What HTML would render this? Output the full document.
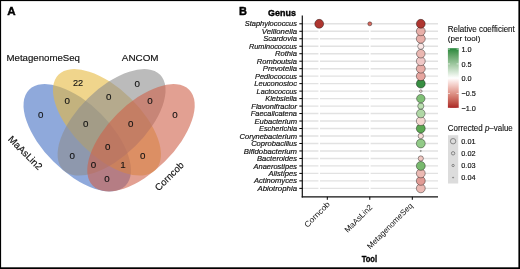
<!DOCTYPE html><html><head><meta charset="utf-8"><style>html,body{margin:0;padding:0;background:#fff;}svg{display:block;will-change:transform;}text{font-family:"Liberation Sans", sans-serif;}</style></head><body>
<svg width="520" height="269" viewBox="0 0 520 269">
<rect x="0" y="0" width="520" height="269" fill="#fff"/>
<ellipse cx="77.25" cy="137.76" rx="68.07" ry="33.69" transform="rotate(44.96 77.25 137.76)" fill="#4470c3" fill-opacity="0.6"/>
<ellipse cx="106.96" cy="122.27" rx="67.95" ry="33.68" transform="rotate(44.36 106.96 122.27)" fill="#e6b93f" fill-opacity="0.6"/>
<ellipse cx="111.58" cy="122.27" rx="67.95" ry="33.68" transform="rotate(-44.36 111.58 122.27)" fill="#8e8e8e" fill-opacity="0.6"/>
<ellipse cx="140.99" cy="137.76" rx="68.07" ry="33.69" transform="rotate(-44.96 140.99 137.76)" fill="#cf6149" fill-opacity="0.6"/>
<text x="7.2" y="15.3" font-size="11.6" font-weight="bold" stroke="#000" stroke-width="0.4">A</text>
<text x="239.0" y="15.2" font-size="11" font-weight="bold" stroke="#000" stroke-width="0.4">B</text>
<text x="6.5" y="60.9" font-size="9.6" fill="#111" stroke="#111" stroke-width="0.15" textLength="73.5" lengthAdjust="spacingAndGlyphs">MetagenomeSeq</text>
<text x="121.8" y="60.7" font-size="9.6" fill="#111" stroke="#111" stroke-width="0.15" textLength="36.8" lengthAdjust="spacingAndGlyphs">ANCOM</text>
<text x="0" y="0" font-size="9.8" text-anchor="middle" fill="#111" stroke="#111" stroke-width="0.15" transform="translate(22.9,155.2) rotate(45)">MaAsLin2</text>
<text x="0" y="0" font-size="9.6" text-anchor="middle" fill="#111" stroke="#111" stroke-width="0.15" transform="translate(171.6,178.6) rotate(-45)">Corncob</text>
<text x="78.0" y="85.8" font-size="9.8" text-anchor="middle" fill="#111" stroke="#111" stroke-width="0.12" textLength="10.2" lengthAdjust="spacingAndGlyphs">22</text>
<text x="108.8" y="100.4" font-size="9.8" text-anchor="middle" fill="#111" stroke="#111" stroke-width="0.12">0</text>
<text x="137.3" y="86.6" font-size="9.8" text-anchor="middle" fill="#111" stroke="#111" stroke-width="0.12">0</text>
<text x="67.3" y="104.3" font-size="9.8" text-anchor="middle" fill="#111" stroke="#111" stroke-width="0.12">0</text>
<text x="40.8" y="117.7" font-size="9.8" text-anchor="middle" fill="#111" stroke="#111" stroke-width="0.12">0</text>
<text x="150" y="104.3" font-size="9.8" text-anchor="middle" fill="#111" stroke="#111" stroke-width="0.12">0</text>
<text x="175" y="117.7" font-size="9.8" text-anchor="middle" fill="#111" stroke="#111" stroke-width="0.12">0</text>
<text x="85.8" y="127.0" font-size="9.8" text-anchor="middle" fill="#111" stroke="#111" stroke-width="0.12">0</text>
<text x="130.8" y="127.0" font-size="9.8" text-anchor="middle" fill="#111" stroke="#111" stroke-width="0.12">0</text>
<text x="107.7" y="150.0" font-size="9.8" text-anchor="middle" fill="#111" stroke="#111" stroke-width="0.12">0</text>
<text x="72.3" y="159.3" font-size="9.8" text-anchor="middle" fill="#111" stroke="#111" stroke-width="0.12">0</text>
<text x="142.7" y="159.3" font-size="9.8" text-anchor="middle" fill="#111" stroke="#111" stroke-width="0.12">0</text>
<text x="93.5" y="168.1" font-size="9.8" text-anchor="middle" fill="#111" stroke="#111" stroke-width="0.12">0</text>
<text x="123.1" y="168.1" font-size="9.8" text-anchor="middle" fill="#111" stroke="#111" stroke-width="0.12">1</text>
<text x="106.9" y="181.6" font-size="9.8" text-anchor="middle" fill="#111" stroke="#111" stroke-width="0.12">0</text>
<text x="268.1" y="16.0" font-size="9.6" font-weight="bold" stroke="#000" stroke-width="0.4" textLength="27.8" lengthAdjust="spacingAndGlyphs">Genus</text>
<line x1="302.3" y1="23.80" x2="438.0" y2="23.80" stroke="#e2e2e2" stroke-width="1.4"/>
<line x1="302.3" y1="31.28" x2="438.0" y2="31.28" stroke="#e2e2e2" stroke-width="1.4"/>
<line x1="302.3" y1="38.76" x2="438.0" y2="38.76" stroke="#e2e2e2" stroke-width="1.4"/>
<line x1="302.3" y1="46.24" x2="438.0" y2="46.24" stroke="#e2e2e2" stroke-width="1.4"/>
<line x1="302.3" y1="53.72" x2="438.0" y2="53.72" stroke="#e2e2e2" stroke-width="1.4"/>
<line x1="302.3" y1="61.20" x2="438.0" y2="61.20" stroke="#e2e2e2" stroke-width="1.4"/>
<line x1="302.3" y1="68.68" x2="438.0" y2="68.68" stroke="#e2e2e2" stroke-width="1.4"/>
<line x1="302.3" y1="76.16" x2="438.0" y2="76.16" stroke="#e2e2e2" stroke-width="1.4"/>
<line x1="302.3" y1="83.64" x2="438.0" y2="83.64" stroke="#e2e2e2" stroke-width="1.4"/>
<line x1="302.3" y1="91.12" x2="438.0" y2="91.12" stroke="#e2e2e2" stroke-width="1.4"/>
<line x1="302.3" y1="98.60" x2="438.0" y2="98.60" stroke="#e2e2e2" stroke-width="1.4"/>
<line x1="302.3" y1="106.08" x2="438.0" y2="106.08" stroke="#e2e2e2" stroke-width="1.4"/>
<line x1="302.3" y1="113.56" x2="438.0" y2="113.56" stroke="#e2e2e2" stroke-width="1.4"/>
<line x1="302.3" y1="121.04" x2="438.0" y2="121.04" stroke="#e2e2e2" stroke-width="1.4"/>
<line x1="302.3" y1="128.52" x2="438.0" y2="128.52" stroke="#e2e2e2" stroke-width="1.4"/>
<line x1="302.3" y1="136.00" x2="438.0" y2="136.00" stroke="#e2e2e2" stroke-width="1.4"/>
<line x1="302.3" y1="143.48" x2="438.0" y2="143.48" stroke="#e2e2e2" stroke-width="1.4"/>
<line x1="302.3" y1="150.96" x2="438.0" y2="150.96" stroke="#e2e2e2" stroke-width="1.4"/>
<line x1="302.3" y1="158.44" x2="438.0" y2="158.44" stroke="#e2e2e2" stroke-width="1.4"/>
<line x1="302.3" y1="165.92" x2="438.0" y2="165.92" stroke="#e2e2e2" stroke-width="1.4"/>
<line x1="302.3" y1="173.40" x2="438.0" y2="173.40" stroke="#e2e2e2" stroke-width="1.4"/>
<line x1="302.3" y1="180.88" x2="438.0" y2="180.88" stroke="#e2e2e2" stroke-width="1.4"/>
<line x1="302.3" y1="188.36" x2="438.0" y2="188.36" stroke="#e2e2e2" stroke-width="1.4"/>
<line x1="319.2" y1="15.4" x2="319.2" y2="196.8" stroke="#fff" stroke-width="1.6"/>
<line x1="369.8" y1="15.4" x2="369.8" y2="196.8" stroke="#fff" stroke-width="1.6"/>
<line x1="420.8" y1="15.4" x2="420.8" y2="196.8" stroke="#fff" stroke-width="1.6"/>
<line x1="302.3" y1="15.4" x2="302.3" y2="197.4" stroke="#111" stroke-width="1.2"/>
<line x1="301.7" y1="196.8" x2="438.0" y2="196.8" stroke="#111" stroke-width="1.2"/>
<line x1="299.3" y1="23.80" x2="302.3" y2="23.80" stroke="#000" stroke-width="1"/>
<text x="297.0" y="26.40" font-size="7.6" font-style="italic" text-anchor="end" fill="#111" stroke="#111" stroke-width="0.18" textLength="52.31" lengthAdjust="spacingAndGlyphs">Staphylococcus</text>
<line x1="299.3" y1="31.28" x2="302.3" y2="31.28" stroke="#000" stroke-width="1"/>
<text x="297.0" y="33.88" font-size="7.6" font-style="italic" text-anchor="end" fill="#111" stroke="#111" stroke-width="0.18" textLength="35.12" lengthAdjust="spacingAndGlyphs">Veillonella</text>
<line x1="299.3" y1="38.76" x2="302.3" y2="38.76" stroke="#000" stroke-width="1"/>
<text x="297.0" y="41.36" font-size="7.6" font-style="italic" text-anchor="end" fill="#111" stroke="#111" stroke-width="0.18" textLength="33.80" lengthAdjust="spacingAndGlyphs">Scardovia</text>
<line x1="299.3" y1="46.24" x2="302.3" y2="46.24" stroke="#000" stroke-width="1"/>
<text x="297.0" y="48.84" font-size="7.6" font-style="italic" text-anchor="end" fill="#111" stroke="#111" stroke-width="0.18" textLength="48.01" lengthAdjust="spacingAndGlyphs">Ruminococcus</text>
<line x1="299.3" y1="53.72" x2="302.3" y2="53.72" stroke="#000" stroke-width="1"/>
<text x="297.0" y="56.32" font-size="7.6" font-style="italic" text-anchor="end" fill="#111" stroke="#111" stroke-width="0.18" textLength="21.97" lengthAdjust="spacingAndGlyphs">Rothia</text>
<line x1="299.3" y1="61.20" x2="302.3" y2="61.20" stroke="#000" stroke-width="1"/>
<text x="297.0" y="63.80" font-size="7.6" font-style="italic" text-anchor="end" fill="#111" stroke="#111" stroke-width="0.18" textLength="40.18" lengthAdjust="spacingAndGlyphs">Romboutsia</text>
<line x1="299.3" y1="68.68" x2="302.3" y2="68.68" stroke="#000" stroke-width="1"/>
<text x="297.0" y="71.28" font-size="7.6" font-style="italic" text-anchor="end" fill="#111" stroke="#111" stroke-width="0.18" textLength="34.19" lengthAdjust="spacingAndGlyphs">Prevotella</text>
<line x1="299.3" y1="76.16" x2="302.3" y2="76.16" stroke="#000" stroke-width="1"/>
<text x="297.0" y="78.76" font-size="7.6" font-style="italic" text-anchor="end" fill="#111" stroke="#111" stroke-width="0.18" textLength="41.99" lengthAdjust="spacingAndGlyphs">Pediococcus</text>
<line x1="299.3" y1="83.64" x2="302.3" y2="83.64" stroke="#000" stroke-width="1"/>
<text x="297.0" y="86.24" font-size="7.6" font-style="italic" text-anchor="end" fill="#111" stroke="#111" stroke-width="0.18" textLength="42.74" lengthAdjust="spacingAndGlyphs">Leuconostoc</text>
<line x1="299.3" y1="91.12" x2="302.3" y2="91.12" stroke="#000" stroke-width="1"/>
<text x="297.0" y="93.72" font-size="7.6" font-style="italic" text-anchor="end" fill="#111" stroke="#111" stroke-width="0.18" textLength="40.40" lengthAdjust="spacingAndGlyphs">Lactococcus</text>
<line x1="299.3" y1="98.60" x2="302.3" y2="98.60" stroke="#000" stroke-width="1"/>
<text x="297.0" y="101.20" font-size="7.6" font-style="italic" text-anchor="end" fill="#111" stroke="#111" stroke-width="0.18" textLength="31.78" lengthAdjust="spacingAndGlyphs">Klebsiella</text>
<line x1="299.3" y1="106.08" x2="302.3" y2="106.08" stroke="#000" stroke-width="1"/>
<text x="297.0" y="108.68" font-size="7.6" font-style="italic" text-anchor="end" fill="#111" stroke="#111" stroke-width="0.18" textLength="45.67" lengthAdjust="spacingAndGlyphs">Flavonifractor</text>
<line x1="299.3" y1="113.56" x2="302.3" y2="113.56" stroke="#000" stroke-width="1"/>
<text x="297.0" y="116.16" font-size="7.6" font-style="italic" text-anchor="end" fill="#111" stroke="#111" stroke-width="0.18" textLength="46.21" lengthAdjust="spacingAndGlyphs">Faecalicatena</text>
<line x1="299.3" y1="121.04" x2="302.3" y2="121.04" stroke="#000" stroke-width="1"/>
<text x="297.0" y="123.64" font-size="7.6" font-style="italic" text-anchor="end" fill="#111" stroke="#111" stroke-width="0.18" textLength="42.49" lengthAdjust="spacingAndGlyphs">Eubacterium</text>
<line x1="299.3" y1="128.52" x2="302.3" y2="128.52" stroke="#000" stroke-width="1"/>
<text x="297.0" y="131.12" font-size="7.6" font-style="italic" text-anchor="end" fill="#111" stroke="#111" stroke-width="0.18" textLength="37.99" lengthAdjust="spacingAndGlyphs">Escherichia</text>
<line x1="299.3" y1="136.00" x2="302.3" y2="136.00" stroke="#000" stroke-width="1"/>
<text x="297.0" y="138.60" font-size="7.6" font-style="italic" text-anchor="end" fill="#111" stroke="#111" stroke-width="0.18" textLength="57.51" lengthAdjust="spacingAndGlyphs">Corynebacterium</text>
<line x1="299.3" y1="143.48" x2="302.3" y2="143.48" stroke="#000" stroke-width="1"/>
<text x="297.0" y="146.08" font-size="7.6" font-style="italic" text-anchor="end" fill="#111" stroke="#111" stroke-width="0.18" textLength="45.87" lengthAdjust="spacingAndGlyphs">Coprobacillus</text>
<line x1="299.3" y1="150.96" x2="302.3" y2="150.96" stroke="#000" stroke-width="1"/>
<text x="297.0" y="153.56" font-size="7.6" font-style="italic" text-anchor="end" fill="#111" stroke="#111" stroke-width="0.18" textLength="53.13" lengthAdjust="spacingAndGlyphs">Bifidobacterium</text>
<line x1="299.3" y1="158.44" x2="302.3" y2="158.44" stroke="#000" stroke-width="1"/>
<text x="297.0" y="161.04" font-size="7.6" font-style="italic" text-anchor="end" fill="#111" stroke="#111" stroke-width="0.18" textLength="39.96" lengthAdjust="spacingAndGlyphs">Bacteroides</text>
<line x1="299.3" y1="165.92" x2="302.3" y2="165.92" stroke="#000" stroke-width="1"/>
<text x="297.0" y="168.52" font-size="7.6" font-style="italic" text-anchor="end" fill="#111" stroke="#111" stroke-width="0.18" textLength="43.45" lengthAdjust="spacingAndGlyphs">Anaerostipes</text>
<line x1="299.3" y1="173.40" x2="302.3" y2="173.40" stroke="#000" stroke-width="1"/>
<text x="297.0" y="176.00" font-size="7.6" font-style="italic" text-anchor="end" fill="#111" stroke="#111" stroke-width="0.18" textLength="28.50" lengthAdjust="spacingAndGlyphs">Alistipes</text>
<line x1="299.3" y1="180.88" x2="302.3" y2="180.88" stroke="#000" stroke-width="1"/>
<text x="297.0" y="183.48" font-size="7.6" font-style="italic" text-anchor="end" fill="#111" stroke="#111" stroke-width="0.18" textLength="43.08" lengthAdjust="spacingAndGlyphs">Actinomyces</text>
<line x1="299.3" y1="188.36" x2="302.3" y2="188.36" stroke="#000" stroke-width="1"/>
<text x="297.0" y="190.96" font-size="7.6" font-style="italic" text-anchor="end" fill="#111" stroke="#111" stroke-width="0.18" textLength="39.55" lengthAdjust="spacingAndGlyphs">Abiotrophia</text>
<line x1="327.3" y1="196.8" x2="327.3" y2="199.8" stroke="#000" stroke-width="1"/>
<text x="0" y="0" font-size="8" text-anchor="end" fill="#111" textLength="32.7" lengthAdjust="spacingAndGlyphs" transform="translate(330.5,204.8) rotate(-45)">Corncob</text>
<line x1="369.8" y1="196.8" x2="369.8" y2="199.8" stroke="#000" stroke-width="1"/>
<text x="0" y="0" font-size="8" text-anchor="end" fill="#111" transform="translate(373.0,207.8) rotate(-45)">MaAsLin2</text>
<line x1="412.3" y1="196.8" x2="412.3" y2="199.8" stroke="#000" stroke-width="1"/>
<text x="0" y="0" font-size="8" text-anchor="end" fill="#111" transform="translate(413.3,206.3) rotate(-45)">MetagenomeSeq</text>
<text x="361.7" y="262.2" font-size="9.4" font-weight="bold" stroke="#000" stroke-width="0.35" textLength="15.4" lengthAdjust="spacingAndGlyphs">Tool</text>
<circle cx="420.8" cy="188.36" r="4.45" fill="#ebb9b3" stroke="#000" stroke-opacity="0.55" stroke-width="0.7"/>
<circle cx="420.8" cy="180.88" r="4.45" fill="#e19b95" stroke="#000" stroke-opacity="0.55" stroke-width="0.7"/>
<circle cx="420.8" cy="173.40" r="4.45" fill="#ebb9b3" stroke="#000" stroke-opacity="0.55" stroke-width="0.7"/>
<circle cx="420.8" cy="165.92" r="4.45" fill="#78b96e" stroke="#000" stroke-opacity="0.55" stroke-width="0.7"/>
<circle cx="420.8" cy="158.44" r="2.6" fill="#f0c8c2" stroke="#000" stroke-opacity="0.55" stroke-width="0.7"/>
<circle cx="420.8" cy="150.96" r="0.6" fill="#ebf2eb" stroke="#000" stroke-opacity="0.55" stroke-width="0.7"/>
<circle cx="420.8" cy="143.48" r="4.45" fill="#91ca87" stroke="#000" stroke-opacity="0.55" stroke-width="0.7"/>
<circle cx="420.8" cy="136.00" r="2.7" fill="#f5dcd6" stroke="#000" stroke-opacity="0.55" stroke-width="0.7"/>
<circle cx="420.8" cy="128.52" r="4.45" fill="#5ca852" stroke="#000" stroke-opacity="0.55" stroke-width="0.7"/>
<circle cx="420.8" cy="121.04" r="4.45" fill="#f5d7d1" stroke="#000" stroke-opacity="0.55" stroke-width="0.7"/>
<circle cx="420.8" cy="113.56" r="4.3" fill="#afd7a5" stroke="#000" stroke-opacity="0.55" stroke-width="0.7"/>
<circle cx="420.8" cy="106.08" r="3.1" fill="#badfb0" stroke="#000" stroke-opacity="0.55" stroke-width="0.7"/>
<circle cx="420.8" cy="98.60" r="4.2" fill="#80c076" stroke="#000" stroke-opacity="0.55" stroke-width="0.7"/>
<circle cx="420.8" cy="91.12" r="1.3" fill="#f5dcdb" stroke="#000" stroke-opacity="0.55" stroke-width="0.7"/>
<circle cx="420.8" cy="83.64" r="4.45" fill="#378e42" stroke="#000" stroke-opacity="0.55" stroke-width="0.7"/>
<circle cx="420.8" cy="76.16" r="4.45" fill="#e6a59f" stroke="#000" stroke-opacity="0.55" stroke-width="0.7"/>
<circle cx="420.8" cy="68.68" r="4.45" fill="#e8ada7" stroke="#000" stroke-opacity="0.55" stroke-width="0.7"/>
<circle cx="420.8" cy="61.20" r="4.45" fill="#f0c8c7" stroke="#000" stroke-opacity="0.55" stroke-width="0.7"/>
<circle cx="420.8" cy="53.72" r="4.3" fill="#eab7b1" stroke="#000" stroke-opacity="0.55" stroke-width="0.7"/>
<circle cx="420.8" cy="46.24" r="3.1" fill="#fae6e5" stroke="#000" stroke-opacity="0.55" stroke-width="0.7"/>
<circle cx="420.8" cy="38.76" r="4.45" fill="#e8afa9" stroke="#000" stroke-opacity="0.55" stroke-width="0.7"/>
<circle cx="420.8" cy="31.28" r="4.45" fill="#e8afa9" stroke="#000" stroke-opacity="0.55" stroke-width="0.7"/>
<circle cx="319.2" cy="23.80" r="4.45" fill="#ae3630" stroke="#000" stroke-opacity="0.55" stroke-width="0.7"/>
<circle cx="369.8" cy="23.80" r="2.0" fill="#d7695e" stroke="#000" stroke-opacity="0.55" stroke-width="0.7"/>
<circle cx="420.8" cy="23.80" r="4.45" fill="#ae3630" stroke="#000" stroke-opacity="0.55" stroke-width="0.7"/>
<defs><linearGradient id="cb" x1="0" y1="0" x2="0" y2="1"><stop offset="0.0000" stop-color="#23873a"/><stop offset="0.0417" stop-color="#3c914a"/><stop offset="0.0833" stop-color="#509b59"/><stop offset="0.1250" stop-color="#63a569"/><stop offset="0.1667" stop-color="#75af79"/><stop offset="0.2083" stop-color="#86b989"/><stop offset="0.2500" stop-color="#97c399"/><stop offset="0.2917" stop-color="#a9cda9"/><stop offset="0.3333" stop-color="#bad7ba"/><stop offset="0.3750" stop-color="#cbe1cb"/><stop offset="0.4167" stop-color="#dcebdc"/><stop offset="0.4583" stop-color="#eef5ed"/><stop offset="0.5000" stop-color="#ffffff"/><stop offset="0.5417" stop-color="#fbedeb"/><stop offset="0.5833" stop-color="#f7dbd7"/><stop offset="0.6250" stop-color="#f2cac4"/><stop offset="0.6667" stop-color="#ecb8b0"/><stop offset="0.7083" stop-color="#e6a79e"/><stop offset="0.7500" stop-color="#df968b"/><stop offset="0.7917" stop-color="#d88579"/><stop offset="0.8333" stop-color="#d07368"/><stop offset="0.8750" stop-color="#c76257"/><stop offset="0.9167" stop-color="#be5046"/><stop offset="0.9583" stop-color="#b43c36"/><stop offset="1.0000" stop-color="#aa2626"/></linearGradient></defs>
<text x="447.8" y="31.8" font-size="8.4" fill="#111" stroke="#111" stroke-width="0.12" textLength="67" lengthAdjust="spacingAndGlyphs">Relative coefficient</text>
<text x="447.8" y="40.8" font-size="8.1" fill="#111" stroke="#111" stroke-width="0.12" textLength="32.6" lengthAdjust="spacingAndGlyphs">(per tool)</text>
<rect x="447.9" y="48.2" width="10.8" height="59.7" fill="url(#cb)"/>
<text x="461.5" y="51.7" font-size="7.3" fill="#111" stroke="#111" stroke-width="0.15">1.0</text>
<line x1="447.9" y1="49.1" x2="450" y2="49.1" stroke="#fff" stroke-width="0.6"/>
<line x1="456.6" y1="49.1" x2="458.7" y2="49.1" stroke="#fff" stroke-width="0.6"/>
<text x="461.5" y="66.5" font-size="7.3" fill="#111" stroke="#111" stroke-width="0.15">0.5</text>
<line x1="447.9" y1="63.9" x2="450" y2="63.9" stroke="#fff" stroke-width="0.6"/>
<line x1="456.6" y1="63.9" x2="458.7" y2="63.9" stroke="#fff" stroke-width="0.6"/>
<text x="461.5" y="81.3" font-size="7.3" fill="#111" stroke="#111" stroke-width="0.15">0.0</text>
<line x1="447.9" y1="78.7" x2="450" y2="78.7" stroke="#fff" stroke-width="0.6"/>
<line x1="456.6" y1="78.7" x2="458.7" y2="78.7" stroke="#fff" stroke-width="0.6"/>
<text x="461.5" y="96.1" font-size="7.3" fill="#111" stroke="#111" stroke-width="0.15">−0.5</text>
<line x1="447.9" y1="93.5" x2="450" y2="93.5" stroke="#fff" stroke-width="0.6"/>
<line x1="456.6" y1="93.5" x2="458.7" y2="93.5" stroke="#fff" stroke-width="0.6"/>
<text x="461.5" y="110.9" font-size="7.3" fill="#111" stroke="#111" stroke-width="0.15">−1.0</text>
<line x1="447.9" y1="108.3" x2="450" y2="108.3" stroke="#fff" stroke-width="0.6"/>
<line x1="456.6" y1="108.3" x2="458.7" y2="108.3" stroke="#fff" stroke-width="0.6"/>
<text x="447.8" y="130.9" font-size="8.3" fill="#111" stroke="#111" stroke-width="0.12" textLength="65" lengthAdjust="spacingAndGlyphs">Corrected <tspan font-style="italic">p</tspan>–value</text>
<rect x="448.0" y="135.2" width="10.2" height="48.3" fill="#dcdcdc"/>
<circle cx="453.1" cy="141.2" r="2.7" fill="none" stroke="#6a6a6a" stroke-width="0.75"/>
<text x="461.3" y="143.8" font-size="7.3" fill="#111" stroke="#111" stroke-width="0.15">0.01</text>
<circle cx="453.1" cy="153.3" r="1.7" fill="none" stroke="#6a6a6a" stroke-width="0.75"/>
<text x="461.3" y="155.9" font-size="7.3" fill="#111" stroke="#111" stroke-width="0.15">0.02</text>
<circle cx="453.1" cy="165.5" r="1.15" fill="none" stroke="#6a6a6a" stroke-width="0.75"/>
<text x="461.3" y="168.1" font-size="7.3" fill="#111" stroke="#111" stroke-width="0.15">0.03</text>
<circle cx="453.1" cy="177.6" r="0.5" fill="none" stroke="#6a6a6a" stroke-width="0.75"/>
<text x="461.3" y="180.2" font-size="7.3" fill="#111" stroke="#111" stroke-width="0.15">0.04</text>
<rect x="0" y="0" width="520" height="1.1" fill="#000"/><rect x="0" y="0" width="1.1" height="269" fill="#000"/>
<rect x="518.4" y="0" width="1.6" height="269" fill="#000"/><rect x="0" y="267.3" width="520" height="1.7" fill="#000"/>
</svg></body></html>
